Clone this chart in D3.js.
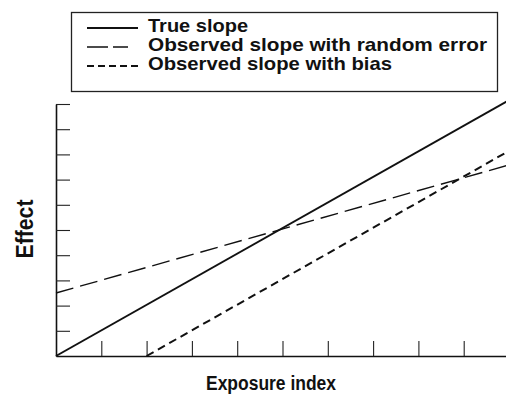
<!DOCTYPE html>
<html>
<head>
<meta charset="utf-8">
<script src="https://cdn.jsdelivr.net/npm/d3@7"></script>
<style>
  html, body { margin: 0; padding: 0; background: #fff; }
  svg { display: block; }
  text { font-family: "Liberation Sans", Arial, Helvetica, sans-serif; font-weight: bold; fill: #111; }
</style>
</head>
<body>
<div id="chart"></div>
<script>
// ---- data ----
const xTickValues = [1, 2, 3, 4, 5, 6, 7, 8, 9];
const yTickValues = [1, 2, 3, 4, 5, 6, 7, 8, 9, 10];
const seriesNames = ["True slope", "Observed slope with random error", "Observed slope with bias"];
const trueSlope   = [[0, 0],   [10, 10.15]];
const randomSlope = [[0, 2.5], [10, 7.58]];
const biasSlope   = [[2, 0],   [10, 8.14]];
const xTitle = "Exposure index";
const yTitle = "Effect";

// ---- layout ----
const W = 506, H = 396;
const svg = d3.select("#chart").append("svg").attr("width", W).attr("height", H);

const x = d3.scaleLinear().domain([0, 10]).range([56, 509]);
const y = d3.scaleLinear().domain([0, 10]).range([356, 104]);

// axes
const gx = svg.append("g").attr("transform", `translate(0,${y(0)})`)
  .call(d3.axisBottom(x).tickValues(xTickValues).tickSizeInner(-15).tickSizeOuter(0).tickFormat(""));
const gy = svg.append("g").attr("transform", `translate(${x(0)},0)`)
  .call(d3.axisLeft(y).tickValues(yTickValues).tickSizeInner(-14).tickSizeOuter(0).tickFormat(""));
[gx, gy].forEach(g => {
  g.select(".domain").attr("stroke", "#111").attr("stroke-width", 1.6);
  g.selectAll(".tick line").attr("stroke", "#222").attr("stroke-width", 1.1);
});

// lines
const line = d3.line().x(d => x(d[0])).y(d => y(d[1]));
const styles = [
  { data: trueSlope,   width: 2.0, dash: null },
  { data: randomSlope, width: 1.4, dash: "18,7" },
  { data: biasSlope,   width: 2.0, dash: "8,5" }
];
styles.forEach(s => {
  svg.append("path").datum(s.data).attr("d", line)
    .attr("fill", "none").attr("stroke", "#111")
    .attr("stroke-width", s.width)
    .attr("stroke-dasharray", s.dash);
});

// axis titles
svg.append("text").attr("x", 271).attr("y", 390).attr("text-anchor", "middle")
  .attr("font-size", 20).style("font-size", "20px")
  .attr("textLength", 130).attr("lengthAdjust", "spacingAndGlyphs").text(xTitle);
svg.append("text").attr("transform", "translate(33,229) rotate(-90)").attr("text-anchor", "middle")
  .attr("font-size", 23).style("font-size", "23px")
  .attr("textLength", 59).attr("lengthAdjust", "spacingAndGlyphs").text(yTitle);

// legend
const legend = svg.append("g");
legend.append("rect").attr("x", 71.5).attr("y", 12.5).attr("width", 426).attr("height", 79)
  .attr("fill", "#fff").attr("stroke", "#222").attr("stroke-width", 1.3);
const legRows = [
  { baseline: 32, x2: 138, width: 2.0, dash: null, textLen: 100 },
  { baseline: 51, x2: 128, width: 1.4, dash: "21,5", textLen: 339 },
  { baseline: 70, x2: 138, width: 2.0, dash: "7,4", textLen: 244 }
];
legRows.forEach((r, i) => {
  legend.append("line").attr("x1", 87).attr("x2", r.x2)
    .attr("y1", r.baseline - 4).attr("y2", r.baseline - 4)
    .attr("stroke", "#111").attr("stroke-width", r.width).attr("stroke-dasharray", r.dash);
  legend.append("text").attr("x", 148).attr("y", r.baseline)
    .attr("font-size", 18.5).style("font-size", "18.5px")
    .attr("textLength", r.textLen).attr("lengthAdjust", "spacingAndGlyphs")
    .text(seriesNames[i]);
});
</script>
</body>
</html>
